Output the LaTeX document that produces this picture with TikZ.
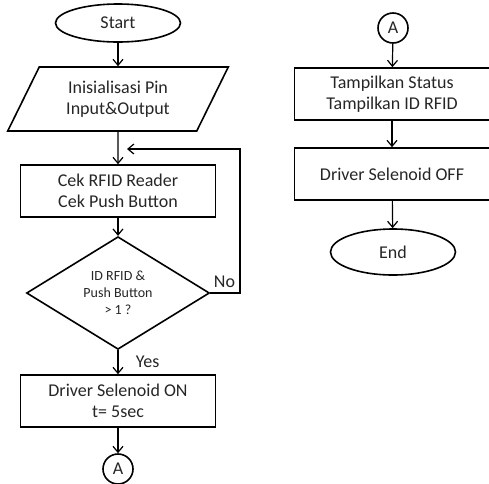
\documentclass[tikz,border=0pt]{standalone}
\usepackage{fontspec}
\setmainfont{Carlito}
\usetikzlibrary{shapes.geometric,arrows.meta}
\begin{document}
\begin{tikzpicture}[
  x=1pt, y=-1pt,
  every node/.style={text=black!85, font=\fontsize{18}{20.5}\selectfont},
  terminal/.style={draw, ellipse, line width=1.6pt, inner sep=0pt, minimum width=125pt, minimum height=38pt},
  iobox/.style={draw, trapezium, trapezium left angle=60, trapezium right angle=120, trapezium stretches=true,
    line width=1.6pt, inner sep=0pt, minimum width=221pt, minimum height=64pt, align=center},
  procbox/.style={draw, rectangle, line width=1.6pt, inner sep=0pt, minimum width=195pt, minimum height=52pt, align=center},
  decision/.style={draw, diamond, line width=1.6pt, inner sep=0pt, minimum width=183pt, minimum height=105pt, align=center,
    font=\fontsize{14}{17}\selectfont},
  connector/.style={draw, circle, line width=1.6pt, inner sep=0pt, minimum size=30pt},
  flow/.style={->, line width=1.2pt},
  >={Straight Barb[length=6pt,width=10pt]}
]
\useasboundingbox (0,0) rectangle (489,483);
\node[terminal] (start) at (118,23) {Start};
\node[iobox]    (init)  at (118,99) {Inisialisasi Pin\\Input\&Output};
\node[procbox]  (cek)   at (118,191) {Cek RFID Reader\\Cek Push Button};
\node[decision] (dec)   at (118,293) {ID RFID \&\\Push Button\\> 1 ?};
\node[procbox]  (on)    at (118,401) {Driver Selenoid ON\\t= 5sec};
\node[connector] (conA) at (118,469) {A};
\coordinate (back) at (127,149);

\node[connector] (conB) at (393,28) {A};
\node[procbox]  (status) at (392,94) {Tampilkan Status\\Tampilkan ID RFID};
\node[procbox]  (off)   at (392,174) {Driver Selenoid OFF};
\node[terminal, minimum height=46pt] (end) at (393,252) {End};

\draw[flow] (start) -- (init);
\draw[flow] (init) -- (cek);
\draw[flow] (cek) -- (dec);
\draw[flow] (dec) -- node[right, xshift=14pt] {Yes} (on);
\draw[flow] (on) -- (conA);
\draw[flow] (dec.east) -- (240,293) -- node[pos=0.08, left, xshift=-1pt] {No} (240,149) -- (back);
\draw[flow] (conB) -- (status);
\draw[flow] (status) -- (off);
\draw[flow] (off) -- (end);
\end{tikzpicture}
\end{document}
